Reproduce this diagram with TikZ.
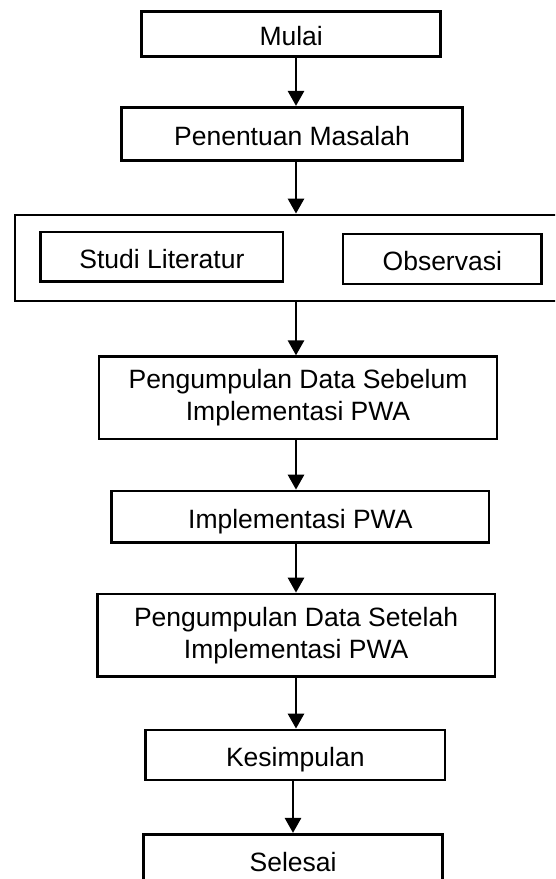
\documentclass[tikz,border=0pt]{standalone}
\usepackage{fontspec}
\setmainfont{Liberation Sans}
\usetikzlibrary{arrows.meta}
\begin{document}
\begin{tikzpicture}[x=1pt,y=-1pt,
  box/.style={draw, line width=2.8pt, inner sep=0pt, font=\fontsize{26.5}{31.7}\selectfont, align=center},
  onebox/.style={box, text height=23pt, text depth=0pt},
  flow/.style={line width=2.8pt, -{Triangle[width=16pt,length=15pt]}}]
\useasboundingbox (0,0) rectangle (555,879);
\clip (0,0) rectangle (555,879);
\coordinate (sp) at (296,0);
\coordinate (sq) at (293,0);
\node[onebox, minimum width=299pt, minimum height=45pt] (mulai) at (291.2,34.2) {Mulai};
\node[onebox, minimum width=341.3pt, minimum height=53.4pt] (pen) at (292,134) {Penentuan Masalah};
\node[box, minimum width=585pt, minimum height=86pt] (outer) at (307.5,258) {};
\node[onebox, minimum width=242.3pt, minimum height=49.7pt] (studi) at (161.9,256.9) {Studi Literatur};
\node[onebox, minimum width=198.6pt, minimum height=50pt] (obs) at (442.3,259) {Observasi};
\node[box, minimum width=398pt, minimum height=82.3pt] (seb) at (298,397.9) {Pengumpulan Data Sebelum\\Implementasi PWA};
\node[onebox, minimum width=377.5pt, minimum height=51.3pt] (impl) at (300.3,516.7) {Implementasi PWA};
\node[box, minimum width=397.6pt, minimum height=82.7pt] (set) at (296.1,635.4) {Pengumpulan Data Setelah\\Implementasi PWA};
\node[onebox, minimum width=299.5pt, minimum height=50pt] (kes) at (295.3,755) {Kesimpulan};
\node[onebox, minimum width=298.8pt, minimum height=52pt] (sel) at (293.1,860.3) {Selesai};
\draw[flow] (mulai.south -| sp) -- (pen.north -| sp);
\draw[flow] (pen.south -| sp) -- (outer.north -| sp);
\draw[flow] (outer.south -| sp) -- (seb.north -| sp);
\draw[flow] (seb.south -| sp) -- (impl.north -| sp);
\draw[flow] (impl.south -| sp) -- (set.north -| sp);
\draw[flow] (set.south -| sp) -- (kes.north -| sp);
\draw[flow] (kes.south -| sq) -- (sel.north -| sq);
\end{tikzpicture}
\end{document}
